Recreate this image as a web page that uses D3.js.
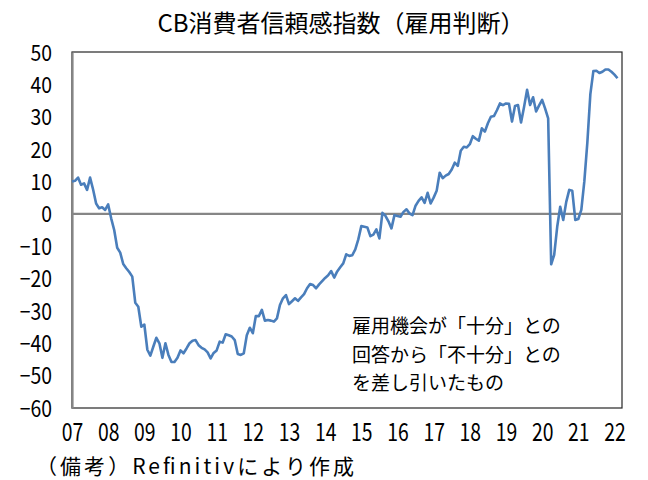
<!DOCTYPE html>
<html>
<head>
<meta charset="utf-8">
<script src="https://cdn.jsdelivr.net/npm/d3@7"></script>
<style>
  html, body { margin: 0; padding: 0; background: #fff; }
  svg { display: block; }
  text { font-family: "Noto Sans CJK JP", "Noto Sans", sans-serif; fill: #000; }
</style>
</head>
<body>
<svg id="chart" width="648" height="480"></svg>
<script>
// ---- data (monthly, Jan 2007 - Feb 2022) ----
const titleText = "CB消費者信頼感指数（雇用判断）";
const noteLines = ["雇用機会が「十分」との", "回答から「不十分」との", "を差し引いたもの"];
const sourceText = "（備考）Refinitivにより作成";
const yearLabels = ["07","08","09","10","11","12","13","14","15","16","17","18","19","20","21","22"];
const yTicks = [50, 40, 30, 20, 10, 0, -10, -20, -30, -40, -50, -60];
const values = [
  10, 10.2, 11.2, 9, 9.4, 7.4, 11.2, 7.5, 3.2, 1.7,
  2, 1.2, 2.9, -1.4, -5, -10.5, -12, -15.5, -16.8, -18,
  -19.4, -27.5, -28.7, -34.9, -34.2, -42, -43.8, -41, -38.3, -40,
  -44.5, -40, -43.6, -45.8, -45.8, -44.5, -42.2, -43.1, -41.6, -40,
  -39.2, -39, -40.6, -41.4, -41.9, -42.8, -44.7, -43, -42.2, -39.5,
  -39.8, -37.2, -37.5, -37.9, -39, -43.3, -43.6, -43.1, -37.5, -35.2,
  -36.9, -31.6, -31.6, -29.7, -33, -32.8, -33, -33.3, -32.3, -28.2,
  -26.1, -25.1, -27.9, -27, -26.1, -26.9, -25.8, -24.8, -23, -21.7,
  -22, -23, -21.8, -20.8, -19.8, -19, -17.7, -19.7, -17.8, -16.5,
  -15.3, -12.5, -13, -12.8, -11, -7.9, -3.8, -4, -4.2, -6.9,
  -6.4, -4.8, -7.6, 0.3, -0.6, -2.3, -4.5, -0.4, -0.7, -0.9,
  0.6, 1.4, 0.1, -0.4, 2.5, 4, 5.1, 3.4, 6.5, 3.2,
  5, 7.1, 12.7, 11, 11.8, 12.3, 13.7, 15.8, 14.8, 19.5,
  20.7, 20.5, 21.5, 24, 23.2, 22.6, 26.4, 25.4, 28, 30,
  30.2, 32, 34.1, 33.6, 34.1, 34, 28.5, 33.3, 33.6, 28.2,
  33, 38.3, 33.6, 36, 31.6, 33.5, 35.2, 32.5, 29.5, -15.6,
  -12.7, -4, 2.2, -1.9, 3.7, 7.4, 7.1, -1.9, -1.6, 1.2,
  10, 22, 37, 44.1, 44.2, 43.5, 43.9, 44.6, 44.6, 43.9, 43, 41.9
];

// ---- layout ----
const plot = { left: 72, right: 622, top: 52, bottom: 408 };
const svg = d3.select("#chart");

const x = d3.scaleLinear().domain([0, 182.5]).range([plot.left, plot.right]);
const y = d3.scaleLinear().domain([-60, 50]).range([plot.bottom, plot.top]);

// narrow "gothic" look for numeric labels
function condense(sel, factor) {
  sel.each(function() {
    const len = this.getComputedTextLength();
    d3.select(this).attr("textLength", len * factor).attr("lengthAdjust", "spacingAndGlyphs");
  });
}

// title
svg.append("text")
  .attr("x", 341).attr("y", 32)
  .attr("text-anchor", "middle")
  .attr("font-size", 24)
  .text(titleText);

// plot border
svg.append("rect")
  .attr("x", plot.left).attr("y", plot.top)
  .attr("width", plot.right - plot.left).attr("height", plot.bottom - plot.top)
  .attr("fill", "none").attr("stroke", "#262626").attr("stroke-width", 1.2);

// left (value) axis
const yAxis = d3.axisLeft(y).tickValues(yTicks).tickSize(0).tickPadding(20)
  .tickFormat(d => d < 0 ? "\u2212" + Math.abs(d) : String(d));
const gy = svg.append("g").attr("transform", `translate(${plot.left},0)`).call(yAxis);
gy.select(".domain").attr("stroke", "#868686").attr("stroke-width", 2.2);
gy.selectAll("text").attr("font-size", 22.5).attr("fill", "#000")
  .attr("font-family", "'Liberation Sans', Arial, sans-serif")
  .attr("dy", "0.36em")
  .call(condense, 0.86);

// category (year) axis labels at the bottom
const xAxis = d3.axisBottom(x).tickValues(yearLabels.map((d, i) => i * 12)).tickSize(0).tickPadding(16)
  .tickFormat((d, i) => yearLabels[i]);
const gx = svg.append("g").attr("transform", `translate(0,${plot.bottom})`).call(xAxis);
gx.select(".domain").remove();
gx.selectAll("text").attr("font-size", 24.5).attr("fill", "#000")
  .attr("font-family", "'Liberation Sans', Arial, sans-serif")
  .call(condense, 0.79);

// zero line
svg.append("line")
  .attr("x1", plot.left).attr("x2", plot.right)
  .attr("y1", y(0)).attr("y2", y(0))
  .attr("stroke", "#868686").attr("stroke-width", 2.2);

// series line
const line = d3.line().x((d, i) => x(i)).y(d => y(d));
svg.append("path")
  .datum(values)
  .attr("d", line)
  .attr("fill", "none")
  .attr("stroke", "#4a7ebb")
  .attr("stroke-width", 2.6)
  .attr("stroke-linejoin", "round");

// note
svg.append("g").selectAll("text").data(noteLines).join("text")
  .attr("x", 352).attr("y", (d, i) => 333 + i * 28.5)
  .attr("font-size", 19)
  .text(d => d);

// source
svg.append("text")
  .attr("x", 36).attr("y", 474)
  .attr("font-size", 21)
  .attr("textLength", 318).attr("lengthAdjust", "spacing")
  .text(sourceText);
</script>
</body>
</html>
